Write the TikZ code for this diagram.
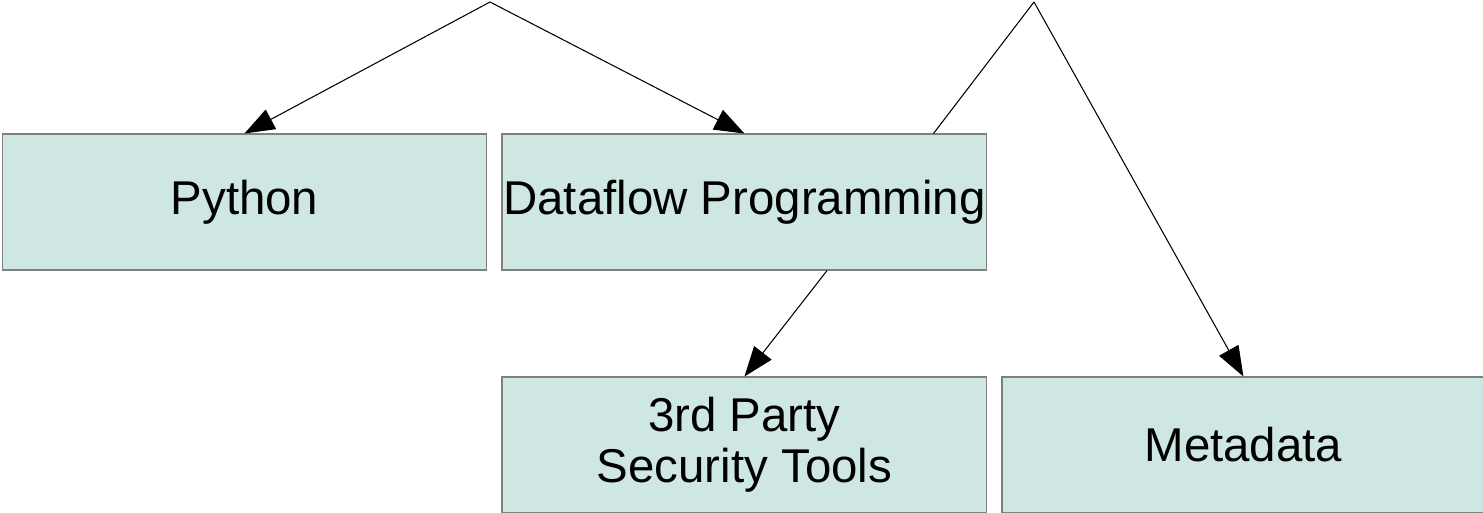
\documentclass[tikz,border=0pt]{standalone}
\usepackage{fontspec}
\setmainfont{Liberation Sans}
\usetikzlibrary{arrows.meta,positioning,calc}
\definecolor{boxfill}{HTML}{CFE7E3}
\definecolor{boxline}{HTML}{808080}

\begin{document}
\begin{tikzpicture}[x=0.02cm, y=-0.02cm,
	topic/.style={draw=boxline, fill=boxfill, line width=0.6pt,
		minimum width=9.7cm, minimum height=2.72cm, inner sep=0pt,
		align=center, font=\fontsize{27}{29}\selectfont},
	link/.style={-{Triangle[length=0.6cm, width=0.44cm]}, line width=0.6pt}]

	\useasboundingbox (0,0) rectangle (1483,513);

	% boxes
	\node[topic] (python) at (244.5,202) {Python};
	\node[topic, right=0.28cm of python] (dataflow) {Dataflow Programming};
	\node[topic, below=2.12cm of dataflow] (tools) {3rd Party\\Security Tools};
	\node[topic, right=0.28cm of tools, minimum width=9.66cm] (metadata) {Metadata};

	% tree tops
	\coordinate (top1) at (490,2);
	\coordinate (top2) at (1034,2);
	\coordinate (dfin) at ($(dataflow.north west)!0.889!(dataflow.north east)$);
	\coordinate (dfout) at ($(dataflow.south west)!0.67!(dataflow.south east)$);

	% connectors
	\draw[link] (top1) -- (python.north);
	\draw[link] (top1) -- (dataflow.north);
	\draw[line width=0.6pt] (top2) -- (dfin);
	\draw[link] (top2) -- (metadata.north);
	\draw[link] (dfout) -- (tools.north);
\end{tikzpicture}
\end{document}
